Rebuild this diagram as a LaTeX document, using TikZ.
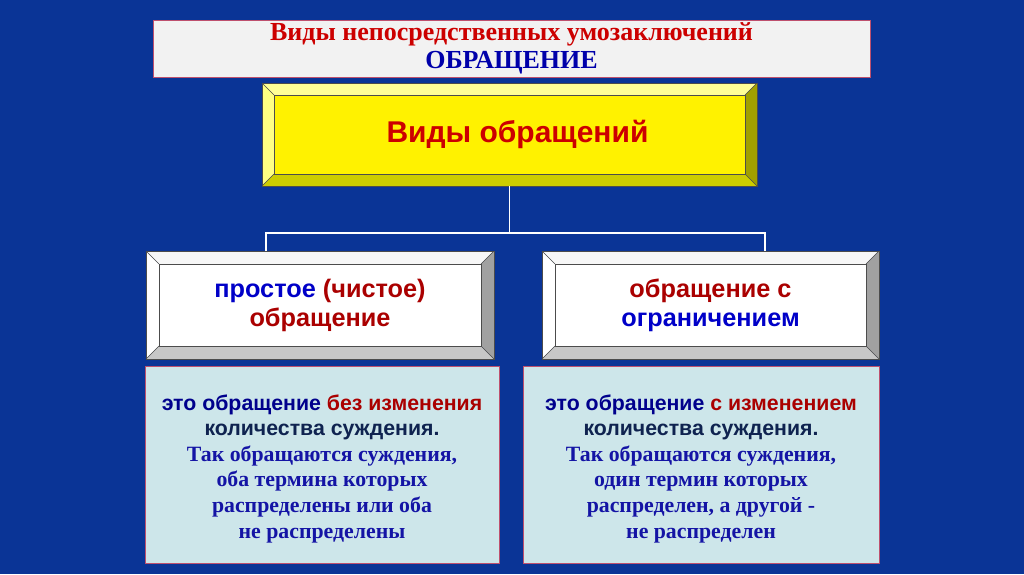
\documentclass[tikz,border=0pt]{standalone}
\usepackage{fontspec}
\setmainfont{Liberation Serif}
\setsansfont{Liberation Sans}

\definecolor{bgblue}{RGB}{10,52,150}
\definecolor{titlered}{RGB}{204,0,0}
\definecolor{titleblue}{RGB}{0,0,170}
\definecolor{darkred}{RGB}{170,0,0}
\definecolor{textblue}{RGB}{0,0,200}
\definecolor{navy}{RGB}{15,35,80}
\definecolor{serifblue}{RGB}{20,20,165}
\definecolor{defblue}{RGB}{205,230,234}
\definecolor{pinkline}{RGB}{190,80,110}
\definecolor{paleyellow}{RGB}{255,255,130}
\definecolor{lightyellow}{RGB}{255,255,150}
\definecolor{olive}{RGB}{160,160,0}
\definecolor{darkyellow}{RGB}{205,205,0}

\tikzset{
  face/.style={minimum width=#1, inner sep=0pt, align=center},
  deftext/.style={font=\sffamily\bfseries\fontsize{21.3}{25.6}\selectfont},
  defbox/.style={draw=pinkline, line width=0.8pt, fill=defblue, inner sep=0pt},
  link/.style={draw=white, line width=1.6pt}
}
\newcommand{\serif}{\rmfamily\fontsize{21.8}{25.6}\selectfont\color{serifblue}}

% bevel round a node: name, width, top, left, right, bottom
\newcommand{\bevel}[6]{%
  \fill[#3] (#1.north west) -- (#1.north east) -- ([shift={(-#2,#2)}]#1.north east) -- ([shift={(#2,#2)}]#1.north west) -- cycle;
  \fill[#4] (#1.north west) -- ([shift={(#2,#2)}]#1.north west) -- ([shift={(#2,-#2)}]#1.south west) -- (#1.south west) -- cycle;
  \fill[#5] (#1.north east) -- (#1.south east) -- ([shift={(-#2,-#2)}]#1.south east) -- ([shift={(-#2,#2)}]#1.north east) -- cycle;
  \fill[#6] (#1.south west) -- ([shift={(#2,-#2)}]#1.south west) -- ([shift={(-#2,-#2)}]#1.south east) -- (#1.south east) -- cycle;
  \draw[black!70, line width=0.5pt] (#1.north west) rectangle (#1.south east);
  \draw[black!70, line width=0.5pt] ([shift={(#2,#2)}]#1.north west) rectangle ([shift={(-#2,-#2)}]#1.south east);
  \draw[black!70, line width=0.5pt]
    (#1.north west) -- ([shift={(#2,#2)}]#1.north west)
    (#1.north east) -- ([shift={(-#2,#2)}]#1.north east)
    (#1.south east) -- ([shift={(-#2,-#2)}]#1.south east)
    (#1.south west) -- ([shift={(#2,-#2)}]#1.south west);
}

\begin{document}
\begin{tikzpicture}[x=1pt, y=-1pt]
  % fond
  \fill[bgblue] (0,0) rectangle (1024,574);
  \useasboundingbox (0,0) rectangle (1024,574);

  % titre
  \node[draw=pinkline, line width=0.8pt, fill=black!5, minimum width=717pt, minimum height=57pt,
        inner sep=0pt, align=center, font=\rmfamily\bfseries\fontsize{26}{28}\selectfont] (title) at (511.5,48.5)
    {{\color{titlered}Виды непосредственных умозаключений}\\
     {\color{titleblue}ОБРАЩЕНИЕ}};

  % boite jaune
  \node[face=471pt, minimum height=79pt, outer sep=12pt, fill=yellow,
        font=\sffamily\bfseries\fontsize{30}{32}\selectfont, text=titlered] (kinds) at (509.5,134.5)
    {\hspace*{16pt}Виды обращений};
  \bevel{kinds}{12}{lightyellow}{paleyellow}{olive}{darkyellow}

  % deux especes
  \node[face=322pt, minimum height=82pt, outer sep=13pt, fill=white,
        font=\sffamily\bfseries\fontsize{25.3}{29}\selectfont, text=darkred] (simple) at (320,305)
    {{\color{textblue}простое} (чистое)\\обращение};
  \bevel{simple}{13}{black!3}{white}{black!37}{black!22}

  \node[face=311pt, minimum height=82pt, outer sep=13pt, fill=white,
        font=\sffamily\bfseries\fontsize{25.3}{29}\selectfont, text=darkred] (restr) at (710.5,305)
    {обращение с\\{\color{textblue}ограничением}};
  \bevel{restr}{13}{black!3}{white}{black!37}{black!22}

  % liaisons
  \coordinate (bar) at (509.5,233);
  \coordinate (jl) at (266,251);
  \coordinate (jr) at (765,251);
  \draw[link] (kinds.south) -- (bar);
  \draw[link] (jl) |- (bar) -| (jr);

  % definitions
  \node[defbox, minimum width=354pt, minimum height=197pt] (simpledef) at (322,464.5) {};
  \node[deftext, align=center, text=navy] at ([yshift=-4pt]simpledef.center)
    {{\color{textblue!70!black}это обращение} {\color{darkred}без изменения}\\
     количества суждения.\\
     {\serif Так обращаются суждения,}\\
     {\serif оба термина которых}\\
     {\serif распределены или оба}\\
     {\serif не распределены}};

  \node[defbox, minimum width=356pt, minimum height=197pt] (restrdef) at (701,464.5) {};
  \node[deftext, align=center, text=navy] at ([yshift=-4pt]restrdef.center)
    {{\color{textblue!70!black}это обращение} {\color{darkred}с изменением}\\
     количества суждения.\\
     {\serif Так обращаются суждения,}\\
     {\serif один термин которых}\\
     {\serif распределен, а другой -}\\
     {\serif не распределен}};
\end{tikzpicture}
\end{document}
